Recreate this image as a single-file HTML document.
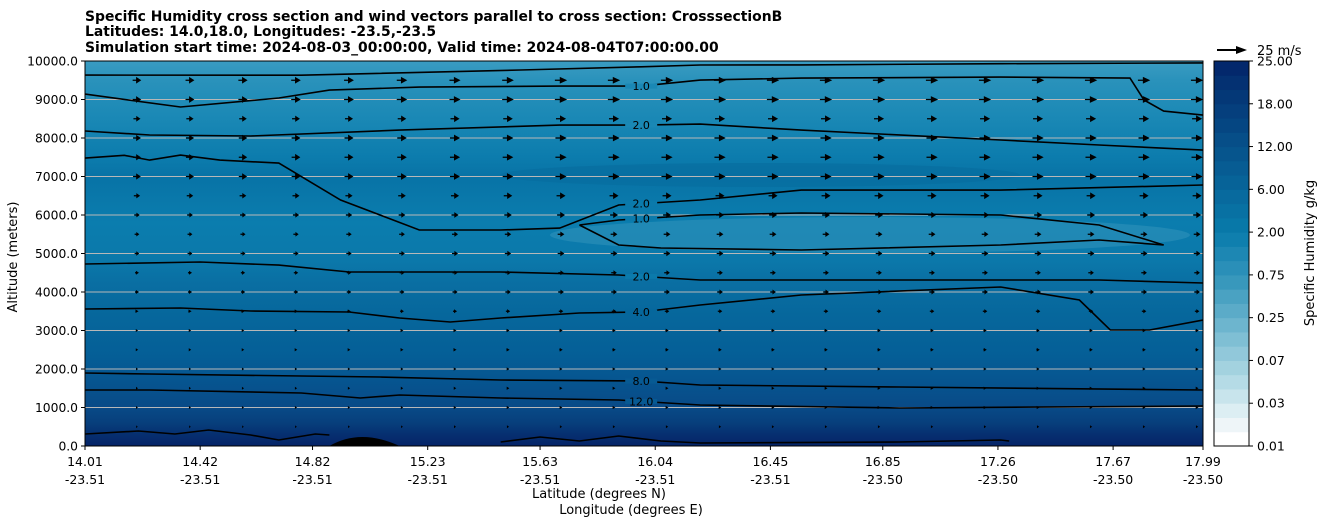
<!DOCTYPE html>
<html><head><meta charset="utf-8"><style>
body{margin:0;background:#fff;width:1326px;height:526px;overflow:hidden;font-family:"Liberation Sans","DejaVu Sans",sans-serif}
svg text{font-family:"DejaVu Sans","Liberation Sans",sans-serif}
</style></head><body>
<svg id="c" width="1326" height="526" xmlns="http://www.w3.org/2000/svg">
<defs>
<linearGradient id="bg" x1="0" y1="0" x2="0" y2="1">
<stop offset="0" stop-color="#3a9cc2"/><stop offset="0.05" stop-color="#2a92bb"/>
<stop offset="0.15" stop-color="#1a88b5"/><stop offset="0.25" stop-color="#0c7cad"/>
<stop offset="0.3" stop-color="#0873a6"/><stop offset="0.42" stop-color="#0b7dae"/>
<stop offset="0.52" stop-color="#0b78aa"/><stop offset="0.58" stop-color="#0a6ea2"/>
<stop offset="0.66" stop-color="#06679c"/><stop offset="0.76" stop-color="#055f97"/>
<stop offset="0.83" stop-color="#065590"/><stop offset="0.9" stop-color="#094a87"/>
<stop offset="0.94" stop-color="#073f7c"/><stop offset="0.97" stop-color="#062f70"/>
<stop offset="1" stop-color="#052468"/></linearGradient>
<clipPath id="pc"><rect x="85" y="61" width="1118" height="385"/></clipPath>
</defs>
<text x="85" y="21" font-size="13.9" font-weight="bold">Specific Humidity cross section and wind vectors parallel to cross section: CrosssectionB</text>
<text x="85" y="36" font-size="13.9" font-weight="bold">Latitudes: 14.0,18.0, Longitudes: -23.5,-23.5</text>
<text x="85" y="52" font-size="13.9" font-weight="bold">Simulation start time: 2024-08-03_00:00:00, Valid time: 2024-08-04T07:00:00.00</text>
<g clip-path="url(#pc)">
<rect x="85" y="61" width="1118" height="385" fill="url(#bg)"/>
<ellipse cx="870" cy="235" rx="320" ry="18" fill="#2a8fb8" opacity="0.7"/>
<ellipse cx="760" cy="175" rx="260" ry="12" fill="#066c9f" opacity="0.6"/>
<g id="grid"></g><g id="fills"></g><g id="lines"></g><g id="arrows"></g>
</g>
<rect x="85" y="61" width="1118" height="385" fill="none" stroke="#000" stroke-width="1"/>
<g id="axes"></g>
<text x="13" y="253" font-size="13" transform="rotate(-90 17 253)" text-anchor="middle">Altitude (meters)</text>
<text x="599" y="498" font-size="13" text-anchor="middle">Latitude (degrees N)</text>
<text x="631" y="514" font-size="13" text-anchor="middle">Longitude (degrees E)</text>
<g id="cbar"></g>
<text x="1314" y="253" font-size="13" transform="rotate(-90 1314 253)" text-anchor="middle">Specific Humidity g/kg</text>
<line x1="1217" y1="50" x2="1238" y2="50" stroke="#000" stroke-width="2"/>
<polygon points="1236,46 1247,50 1236,54" fill="#000"/>
<text x="1257" y="55" font-size="13">25 m/s</text>
</svg>
<script>
const latMin=14.01, latMax=17.99, altMax=10000;
const yTicks=[0,1000,2000,3000,4000,5000,6000,7000,8000,9000,10000];
const xLats=["14.01","14.42","14.82","15.23","15.63","16.04","16.45","16.85","17.26","17.67","17.99"];
const xLons=["-23.51","-23.51","-23.51","-23.51","-23.51","-23.51","-23.51","-23.50","-23.50","-23.50","-23.50"];
const cbTicks=["0.01","0.03","0.07","0.25","0.75","2.00","6.00","12.00","18.00","25.00"];
const cbColors=["#ffffff","#eef5f8","#dceef3","#c8e4ec","#b5dbe6","#a3d2df","#91c8da","#7fbfd4","#6db5ce","#5babc8","#4aa2c2","#3898bc","#2a8fb8","#1d87b3","#0f7fae","#0878a8","#0871a3","#086a9e","#076398","#075c93","#06558d","#064e88","#054682","#053f7d","#043877","#043172","#03286c"];
const line1Lat=[14.01,14.78,15.56,15.99,16.20,16.56,17.27,17.99];
const line1Alt=[9635,9630,9765,9850,9895,9900,9930,9950];
const line2Lat=[14.01,14.35,14.70,14.88,15.20,15.70,15.99,16.20,16.56,17.27,17.73,17.78,17.85,17.99];
const line2Alt=[9141,8804,9038,9245,9323,9349,9349,9505,9557,9583,9557,8986,8700,8596];
const line3Lat=[14.01,14.24,14.60,15.13,15.70,15.99,16.20,16.56,17.27,17.62,17.99];
const line3Alt=[8181,8077,8051,8206,8336,8336,8362,8206,7947,7817,7687];
const line4Lat=[14.01,14.15,14.24,14.35,14.49,14.70,14.92,15.20,15.49,15.70,15.91,16.20,16.56,17.27,17.99];
const line4Alt=[7479,7550,7427,7557,7427,7349,6389,5610,5610,5661,6259,6389,6648,6648,6778];
const line5Lat=[15.77,15.91,16.20,16.56,17.27,17.62,17.85,17.62,17.27,16.56,16.06,15.91,15.77];
const line5Alt=[5739,5870,5999,6051,5999,5739,5220,5350,5220,5090,5142,5220,5739];
const line6Lat=[14.01,14.42,14.70,14.95,15.49,15.91,16.20,16.91,17.62,17.99];
const line6Alt=[4726,4778,4700,4519,4519,4441,4311,4311,4311,4233];
const line7Lat=[14.01,14.35,14.60,14.95,15.13,15.31,15.49,15.77,15.99,16.20,16.56,17.27,17.55,17.66,17.80,17.99];
const line7Alt=[3558,3584,3506,3480,3324,3220,3324,3454,3480,3662,3921,4129,3792,3013,3013,3272];
const line8Lat=[14.01,14.24,14.78,15.06,15.49,15.99,16.20,16.91,17.99];
const line8Alt=[1896,1870,1818,1792,1714,1688,1584,1532,1454];
const line9Lat=[14.01,14.24,14.78,14.99,15.13,15.49,15.91,16.20,16.91,17.99];
const line9Alt=[1454,1454,1376,1247,1324,1247,1195,1065,987,1039];
const line10Lat=[14.01,14.20,14.33,14.45,14.60,14.70,14.83,14.88];
const line10Alt=[312,390,312,416,286,156,312,286];
const line11Lat=[15.49,15.63,15.77,15.91,16.06,16.20,16.91,17.27,17.30];
const line11Alt=[104,234,130,260,130,78,104,156,130];
const contourLevels=["0.5","1.0","2.0","2.0","1.0","2.0","4.0","8.0","12.0","16.0","16.0"];
const labelLat=[15.56,15.99,15.99,15.99,15.99,15.99,15.99,15.99,15.99,15.99,15.99];
const arrowAlts=[500,1000,1500,2000,2500,3000,3500,4000,4500,5000,5500,6000,6500,7000,7500,8000,8500,9000,9500];
const arrowSpeed=[2,2.5,2.5,2.5,3,3,4,5,5,6,6,7,8,10,10,10,9,11,11];
const colFactor=[0.7,0.72,0.75,0.78,0.8,0.85,0.9,0.95,1,1,1,1,1,1,1,1,1,1,1,1,1];
const ns="http://www.w3.org/2000/svg";
const X=l=>85+(l-latMin)/(latMax-latMin)*1118;
const Y=a=>446-a/altMax*385;
function mk(tag,parent,attrs){const e=document.createElementNS(ns,tag);for(const k in attrs)e.setAttribute(k,attrs[k]);document.getElementById(parent).appendChild(e);return e;}
yTicks.forEach((t,i)=>{
  if(i>0&&i<yTicks.length-1){const g=mk('line','grid',{x1:85,x2:1203,y1:Y(t),y2:Y(t),stroke:'#b8b8b8','stroke-width':1});
  
  }
  const tk=mk('line','axes',{x1:81,x2:85,y1:Y(t),y2:Y(t),stroke:'#000'});
  
  
  const tx=mk('text','axes',{x:78,y:Y(t)+4.5,'font-size':12.3,'text-anchor':'end'});tx.textContent=t.toFixed(1);
  
  
});
xLats.forEach((l,i)=>{
  const x=X(parseFloat(l));
  const tk=mk('line','axes',{x1:x,x2:x,y1:446,y2:450,stroke:'#000'});
  
  
  const t=mk('text','axes',{x:x,y:466,'font-size':12.5,'text-anchor':'middle'});t.textContent=l;
  
  
  const t2=mk('text','axes',{x:x,y:484,'font-size':12.5,'text-anchor':'middle'});t2.textContent=xLons[i];
  
  
});
const hill=mk('path','fills',{d:`M${X(14.88)},446 Q${X(14.99)},428 ${X(15.13)},446 Z`,fill:'#000'});


const lines=[[line1Lat,line1Alt],[line2Lat,line2Alt],[line3Lat,line3Alt],[line4Lat,line4Alt],[line5Lat,line5Alt],[line6Lat,line6Alt],[line7Lat,line7Alt],[line8Lat,line8Alt],[line9Lat,line9Alt],[line10Lat,line10Alt],[line11Lat,line11Alt]];
lines.forEach((ln,i)=>{
  const pts=ln[0].map((l,j)=>X(l).toFixed(1)+','+Y(ln[1][j]).toFixed(1)).join(' ');
  const p=mk('polyline','lines',{points:pts,fill:'none',stroke:'#000','stroke-width':1.6});
  
  
});
lines.forEach((ln,i)=>{
  if(i>=1&&i<=8){
    const la=labelLat[i];let k=0;while(k<ln[0].length-2&&ln[0][k+1]<la)k++;
    const f=(la-ln[0][k])/(ln[0][k+1]-ln[0][k]);const a=ln[1][k]+f*(ln[1][k+1]-ln[1][k]);
    const x=X(la),y=Y(a);
    const col=window.getComputedStyle?null:null;
    const gap=mk('line','lines',{x1:x-16,x2:x+16,y1:y,y2:y,stroke:y<200?'#1a88b5':(y<300?'#0b7aab':(y<370?'#06679c':'#075a93')),'stroke-width':5});
    
    
    const t=mk('text','lines',{x:x,y:y+4,'font-size':11,'text-anchor':'middle'});t.textContent=contourLevels[i];
    
    
  }
});
arrowAlts.forEach((a,r)=>{
  colFactor.forEach((cf,c)=>{
    const lat=14.195+c*0.1887;const x=X(lat),y=Y(a);
    const len=arrowSpeed[r]*cf*28/25;
    const hl=Math.min(len,Math.max(3,len*0.6)),hw=Math.min(3.4,0.9+len*0.28);
    const g=mk('path','arrows',{d:`M${x-len/2},${y-0.6}h${len-hl}v${-hw+0.6}l${hl},${hw}l${-hl},${hw}v${-hw+0.6}h${-(len-hl)}z`,fill:'#000'});
    
    
  });
});
const nb=cbColors.length,bh=385/nb;
cbColors.forEach((col,i)=>{
  const r=mk('rect','cbar',{x:1214,y:446-(i+1)*bh,width:35,height:bh+0.5,fill:col});
  
  
});
const fr=mk('rect','cbar',{x:1214,y:61,width:35,height:385,fill:'none',stroke:'#000','stroke-width':1});


cbTicks.forEach((t,i)=>{
  const y=446-i*385/(cbTicks.length-1);
  const tk=mk('line','cbar',{x1:1249,x2:1253,y1:y,y2:y,stroke:'#000'});
  
  
  const tx=mk('text','cbar',{x:1257,y:y+4.5,'font-size':12.5});tx.textContent=t;
  
  
});
</script>
</body></html>
